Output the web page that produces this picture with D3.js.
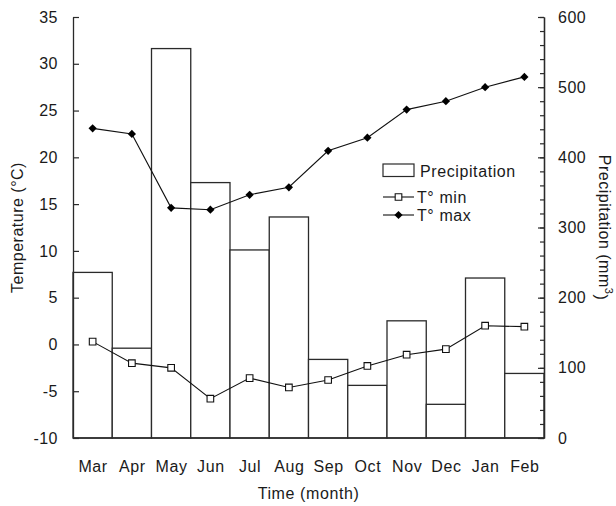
<!DOCTYPE html>
<html lang="en">
<head>
  <meta charset="utf-8">
  <title>Temperature and precipitation</title>
  <script src="https://d3js.org/d3.v7.min.js"></script>
  <style>
    body { margin: 0; background: #fff; }
    svg text { font-family: "Liberation Sans", Arial, sans-serif; fill: #1a1a1a; }
  </style>
</head>
<body>
  <script>
    // monthly values
    var months = ["Mar", "Apr", "May", "Jun", "Jul", "Aug", "Sep", "Oct", "Nov", "Dec", "Jan", "Feb"];
    var precip = [236, 128, 555, 364, 268, 315, 112, 75, 167, 48, 228, 92];
    var tMin = [0.3, -2.0, -2.5, -5.8, -3.6, -4.6, -3.8, -2.3, -1.1, -0.5, 2.0, 1.9];
    var tMax = [23.1, 22.5, 14.6, 14.4, 16.0, 16.8, 20.7, 22.1, 25.1, 26.0, 27.5, 28.6];
    var tempTicks = [-10, -5, 0, 5, 10, 15, 20, 25, 30, 35];
    var precipTicks = [0, 100, 200, 300, 400, 500, 600];

    var w = 616, h = 506;
    // plot edges (note: "top" is taken by window.top, so use pX names)
    var pLeft = 73, pRight = 544, pTop = 17, pBottom = 438;

    var svg = d3.select("body").append("svg")
      .attr("width", w)
      .attr("height", h);

    var x = d3.scaleBand().domain(months).range([pLeft, pRight]).padding(0);
    var yT = d3.scaleLinear().domain([-10, 35]).range([pBottom, pTop]);
    var yP = d3.scaleLinear().domain([0, 600]).range([pBottom, pTop]);

    var rows = months.map(function(m, i) {
      return { m: m, p: precip[i], lo: tMin[i], hi: tMax[i] };
    });

    // bars
    svg.selectAll("rect.bar")
      .data(rows)
      .enter()
      .append("rect")
      .attr("class", "bar")
      .attr("x", function(d) { return x(d.m); })
      .attr("y", function(d) { return yP(d.p); })
      .attr("width", x.bandwidth())
      .attr("height", function(d) { return yP(0) - yP(d.p); })
      .attr("fill", "#fff")
      .attr("stroke", "#2a2a2a")
      .attr("stroke-width", 1.3);

    // axes - plain hyphen for negatives, like the original
    var plain = function(d) { return String(d); };

    var leftAxis = d3.axisLeft(yT).tickValues(tempTicks).tickFormat(plain)
      .tickSizeInner(-6).tickSizeOuter(0).tickPadding(15);
    var gl = svg.append("g").attr("transform", "translate(" + pLeft + ",0)").call(leftAxis);

    var minorAxis = d3.axisRight(yP).tickValues(d3.range(0, 601, 20))
      .tickSizeInner(-4).tickSizeOuter(0).tickFormat("");
    var gm = svg.append("g").attr("transform", "translate(" + pRight + ",0)").call(minorAxis);

    var rightAxis = d3.axisRight(yP).tickValues(precipTicks).tickFormat(plain)
      .tickSizeInner(-6).tickSizeOuter(0).tickPadding(14);
    var gr = svg.append("g").attr("transform", "translate(" + pRight + ",0)").call(rightAxis);

    [gl, gm, gr].forEach(function(g) {
      g.select(".domain").attr("stroke", "#2a2a2a").attr("stroke-width", 1.3);
      g.selectAll(".tick line").attr("stroke", "#2a2a2a").attr("stroke-width", 1.2);
      g.selectAll(".tick text")
        .style("font-size", "16px")
        .style("letter-spacing", "0.5px")
        .attr("fill", "#1a1a1a");
    });

    // bottom line
    svg.append("line")
      .attr("x1", pLeft).attr("x2", pRight)
      .attr("y1", pBottom).attr("y2", pBottom)
      .attr("stroke", "#2a2a2a")
      .attr("stroke-width", 1.3);

    // month labels
    svg.selectAll("text.month")
      .data(months)
      .enter()
      .append("text")
      .attr("class", "month")
      .attr("x", function(d) { return x(d) + x.bandwidth() / 2 + 0.5; })
      .attr("y", 472)
      .attr("text-anchor", "middle")
      .style("font-size", "16px")
      .style("letter-spacing", "0.6px")
      .text(function(d) { return d; });

    // lines
    var cx = function(d) { return x(d.m) + x.bandwidth() / 2; };

    svg.append("path")
      .datum(rows)
      .attr("fill", "none")
      .attr("stroke", "#111")
      .attr("stroke-width", 1.1)
      .attr("d", d3.line().x(cx).y(function(d) { return yT(d.lo); }));

    svg.append("path")
      .datum(rows)
      .attr("fill", "none")
      .attr("stroke", "#111")
      .attr("stroke-width", 1.1)
      .attr("d", d3.line().x(cx).y(function(d) { return yT(d.hi); }));

    var square = d3.symbol(d3.symbolSquare, 44);
    var diamond = d3.symbol(d3.symbolSquare, 34);

    svg.selectAll("path.lo")
      .data(rows)
      .enter()
      .append("path")
      .attr("class", "lo")
      .attr("d", square)
      .attr("transform", function(d) { return "translate(" + cx(d) + "," + yT(d.lo) + ")"; })
      .attr("fill", "#fff")
      .attr("stroke", "#111")
      .attr("stroke-width", 1.1);

    svg.selectAll("path.hi")
      .data(rows)
      .enter()
      .append("path")
      .attr("class", "hi")
      .attr("d", diamond)
      .attr("transform", function(d) { return "translate(" + cx(d) + "," + yT(d.hi) + ") rotate(45)"; })
      .attr("fill", "#000");

    // legend
    var lg = svg.append("g");
    lg.append("rect")
      .attr("x", 383).attr("y", 164)
      .attr("width", 31).attr("height", 12.5)
      .attr("fill", "#fff").attr("stroke", "#2a2a2a").attr("stroke-width", 1.2);
    lg.append("text").attr("x", 420).attr("y", 176.5)
      .style("font-size", "16px").style("letter-spacing", "0.6px").text("Precipitation");

    lg.append("line").attr("x1", 383).attr("x2", 414).attr("y1", 197).attr("y2", 197)
      .attr("stroke", "#111").attr("stroke-width", 1.1);
    lg.append("path").attr("d", square).attr("transform", "translate(398.5,197)")
      .attr("fill", "#fff").attr("stroke", "#111").attr("stroke-width", 1.1);
    lg.append("text").attr("x", 417).attr("y", 203)
      .style("font-size", "16px").style("letter-spacing", "0.6px").text("T° min");

    lg.append("line").attr("x1", 383).attr("x2", 414).attr("y1", 215).attr("y2", 215)
      .attr("stroke", "#111").attr("stroke-width", 1.1);
    lg.append("path").attr("d", diamond).attr("transform", "translate(398.5,215) rotate(45)")
      .attr("fill", "#000");
    lg.append("text").attr("x", 417).attr("y", 221)
      .style("font-size", "16px").style("letter-spacing", "0.6px").text("T° max");

    // axis titles
    svg.append("text")
      .attr("x", (pLeft + pRight) / 2)
      .attr("y", 499)
      .attr("text-anchor", "middle")
      .style("font-size", "16px")
      .style("letter-spacing", "0.6px")
      .text("Time (month)");

    svg.append("text")
      .attr("text-anchor", "middle")
      .attr("transform", "translate(23," + (pTop + pBottom) / 2 + ") rotate(-90)")
      .style("font-size", "16px")
      .style("letter-spacing", "0.5px")
      .text("Temperature (°C)");

    var rt = svg.append("text")
      .attr("text-anchor", "middle")
      .attr("transform", "translate(599," + (pTop + pBottom) / 2 + ") rotate(90)")
      .style("font-size", "16px")
      .style("letter-spacing", "0.5px");
    rt.append("tspan").text("Precipitation (mm");
    rt.append("tspan").attr("dy", "-0.55em").style("font-size", "11px").text("3");
    rt.append("tspan").attr("dy", "0.55em").text(")");
  </script>
</body>
</html>
